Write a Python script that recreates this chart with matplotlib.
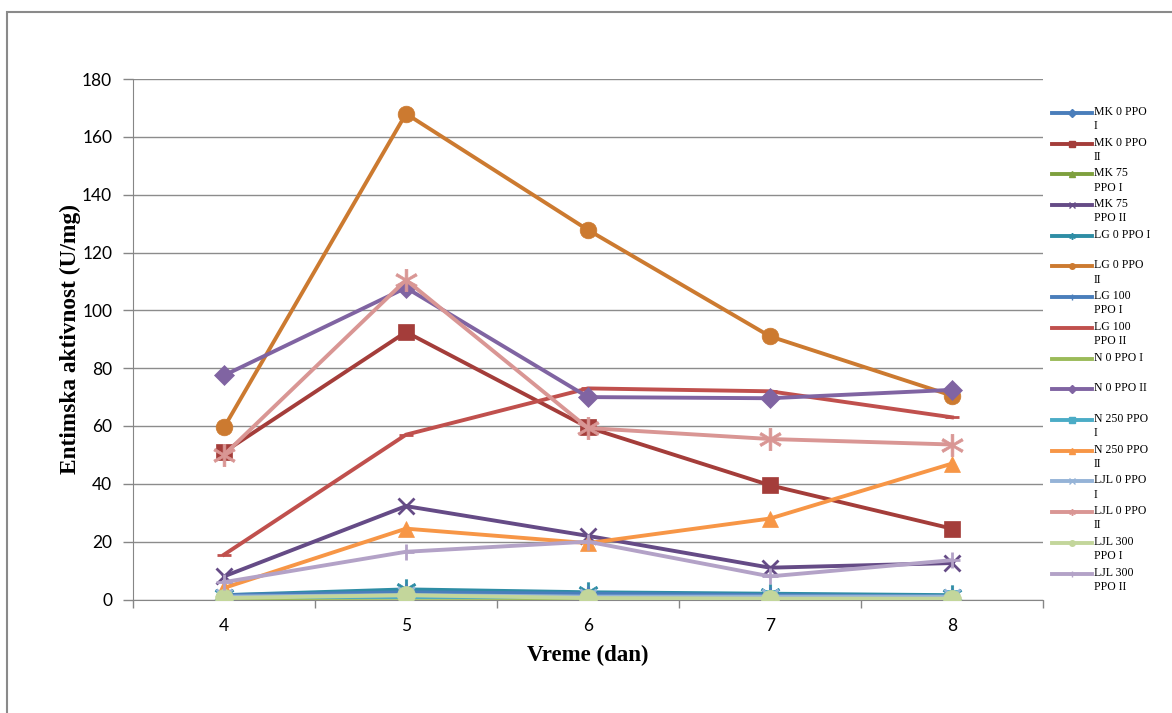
import matplotlib.pyplot as plt
from matplotlib.lines import Line2D
from matplotlib.patches import Rectangle

days = [4, 5, 6, 7, 8]

series_names = ['MK 0 PPO I', 'MK 0 PPO II', 'MK 75 PPO I', 'MK 75 PPO II',
                'LG 0 PPO I', 'LG 0 PPO II', 'LG 100 PPO I', 'LG 100 PPO II',
                'N 0 PPO I', 'N 0 PPO II', 'N 250 PPO I', 'N 250 PPO II',
                'LJL 0 PPO I', 'LJL 0 PPO II', 'LJL 300 PPO I', 'LJL 300 PPO II']
# legend text is wrapped like in the original
legend_labels = ['MK 0 PPO\nI', 'MK 0 PPO\nII', 'MK 75\nPPO I', 'MK 75\nPPO II',
                 'LG 0 PPO I', 'LG 0 PPO\nII', 'LG 100\nPPO I', 'LG 100\nPPO II',
                 'N 0 PPO I', 'N 0 PPO II', 'N 250 PPO\nI', 'N 250 PPO\nII',
                 'LJL 0 PPO\nI', 'LJL 0 PPO\nII', 'LJL 300\nPPO I', 'LJL 300\nPPO II']

mk0_i = [1.0, 2.0, 1.5, 1.0, 1.0]
mk0_ii = [51.0, 92.5, 59.5, 39.5, 24.5]
mk75_i = [0.5, 0.8, 0.6, 0.5, 0.5]
mk75_ii = [8.0, 32.3, 22.0, 11.0, 12.6]
lg0_i = [1.5, 3.5, 2.5, 2.0, 1.5]
lg0_ii = [59.5, 168.0, 127.8, 91.0, 70.5]
lg100_i = [1.5, 2.5, 2.0, 1.5, 1.0]
lg100_ii = [15.5, 57.0, 73.0, 72.0, 63.0]
n0_i = [0.5, 0.6, 0.5, 0.4, 0.4]
n0_ii = [77.5, 107.8, 70.0, 69.6, 72.5]
n250_i = [1.0, 1.0, 1.0, 1.0, 1.0]
n250_ii = [4.0, 24.5, 19.5, 28.0, 47.0]
ljl0_i = [1.0, 1.5, 1.0, 1.0, 1.0]
ljl0_ii = [50.0, 110.5, 59.3, 55.5, 53.6]
ljl300_i = [0.5, 1.5, 0.5, 0.3, 0.3]
ljl300_ii = [6.0, 16.5, 20.0, 8.0, 13.6]

values = [mk0_i, mk0_ii, mk75_i, mk75_ii, lg0_i, lg0_ii, lg100_i, lg100_ii,
          n0_i, n0_ii, n250_i, n250_ii, ljl0_i, ljl0_ii, ljl300_i, ljl300_ii]

colors = ['#4A7EBB', '#A43D3A', '#7EA03E', '#654B86', '#2E8DA5', '#CC7A30',
          '#4A7EBB', '#C0504D', '#9BBB59', '#8064A2', '#4BACC6', '#F79646',
          '#95B3D7', '#D99694', '#C3D69B', '#B3A2C7']
markers = ['D', 's', '^', 'x', '$*$', 'o', '+', '_', None,
           'D', 's', '^', 'x', '$*$', 'o', '+']
msizes = [8, 12, 10, 12, 14, 12, 11, 10, 0, 10, 10, 12, 12, 16, 13, 12]

plt.rcParams['font.family'] = ['Lato', 'DejaVu Sans']

fig = plt.figure(figsize=(11.72, 7.13), dpi=100)
ax = fig.add_axes([133 / 1172, 1 - 599.5 / 713, 910 / 1172, 520.5 / 713])

for vals, c, m, ms in zip(values, colors, markers, msizes):
    ax.plot(days, vals, color=c, lw=2.8, marker=m, markersize=ms,
            markeredgewidth=2 if m in ('x', '+', '_') else 0.5,
            markeredgecolor=c, solid_joinstyle='round', zorder=3)

ax.set_xlim(3.5, 8.5)
ax.set_ylim(0, 180)
ax.set_yticks(range(0, 181, 20))
ax.set_xticks(days)
ax.set_xticks([3.5, 4.5, 5.5, 6.5, 7.5, 8.5], minor=True)
ax.tick_params(axis='x', which='major', length=0, pad=13, labelsize=12.5)
ax.tick_params(axis='x', which='minor', length=6, color='#868686', width=1)
ax.tick_params(axis='y', length=7, color='#868686', width=1, pad=8, labelsize=12.5)
ax.grid(axis='y', color='#8c8c8c', lw=1)
ax.set_axisbelow(True)
for s in ['top', 'right']:
    ax.spines[s].set_visible(False)
for s in ['left', 'bottom']:
    ax.spines[s].set_color('#868686')

ax.set_ylabel('Entimska aktivnost (U/mg)', family='Liberation Serif',
              fontweight='bold', fontsize=16.8, labelpad=1)
ax.set_xlabel('Vreme (dan)', family='Liberation Serif', fontweight='bold',
              fontsize=16.5, labelpad=8)

# hand-built legend so the line sits on the first text line
W, H = 1172, 713
y0 = 113
dy = 30.7
for i, (lab, c, m) in enumerate(zip(legend_labels, colors, markers)):
    y = 1 - (y0 + i * dy) / H
    ln = Line2D([1052 / W, 1072 / W, 1092 / W], [y, y, y], transform=fig.transFigure,
                color=c, lw=2.8, marker=m, markersize=4, markevery=[1],
                markeredgecolor=c)
    fig.add_artist(ln)
    fig.text(1094 / W, y + 7 / H, lab, family='Liberation Serif', fontsize=8.5,
             va='top', ha='left', linespacing=1.25)

# outer chart frame
fig.add_artist(Rectangle((7 / W, -0.1), 1.2, 1 - 12 / H + 0.1, transform=fig.transFigure,
                         fill=False, edgecolor='#8a8a8a', lw=1.5))

fig.savefig('out.png', dpi=100)
